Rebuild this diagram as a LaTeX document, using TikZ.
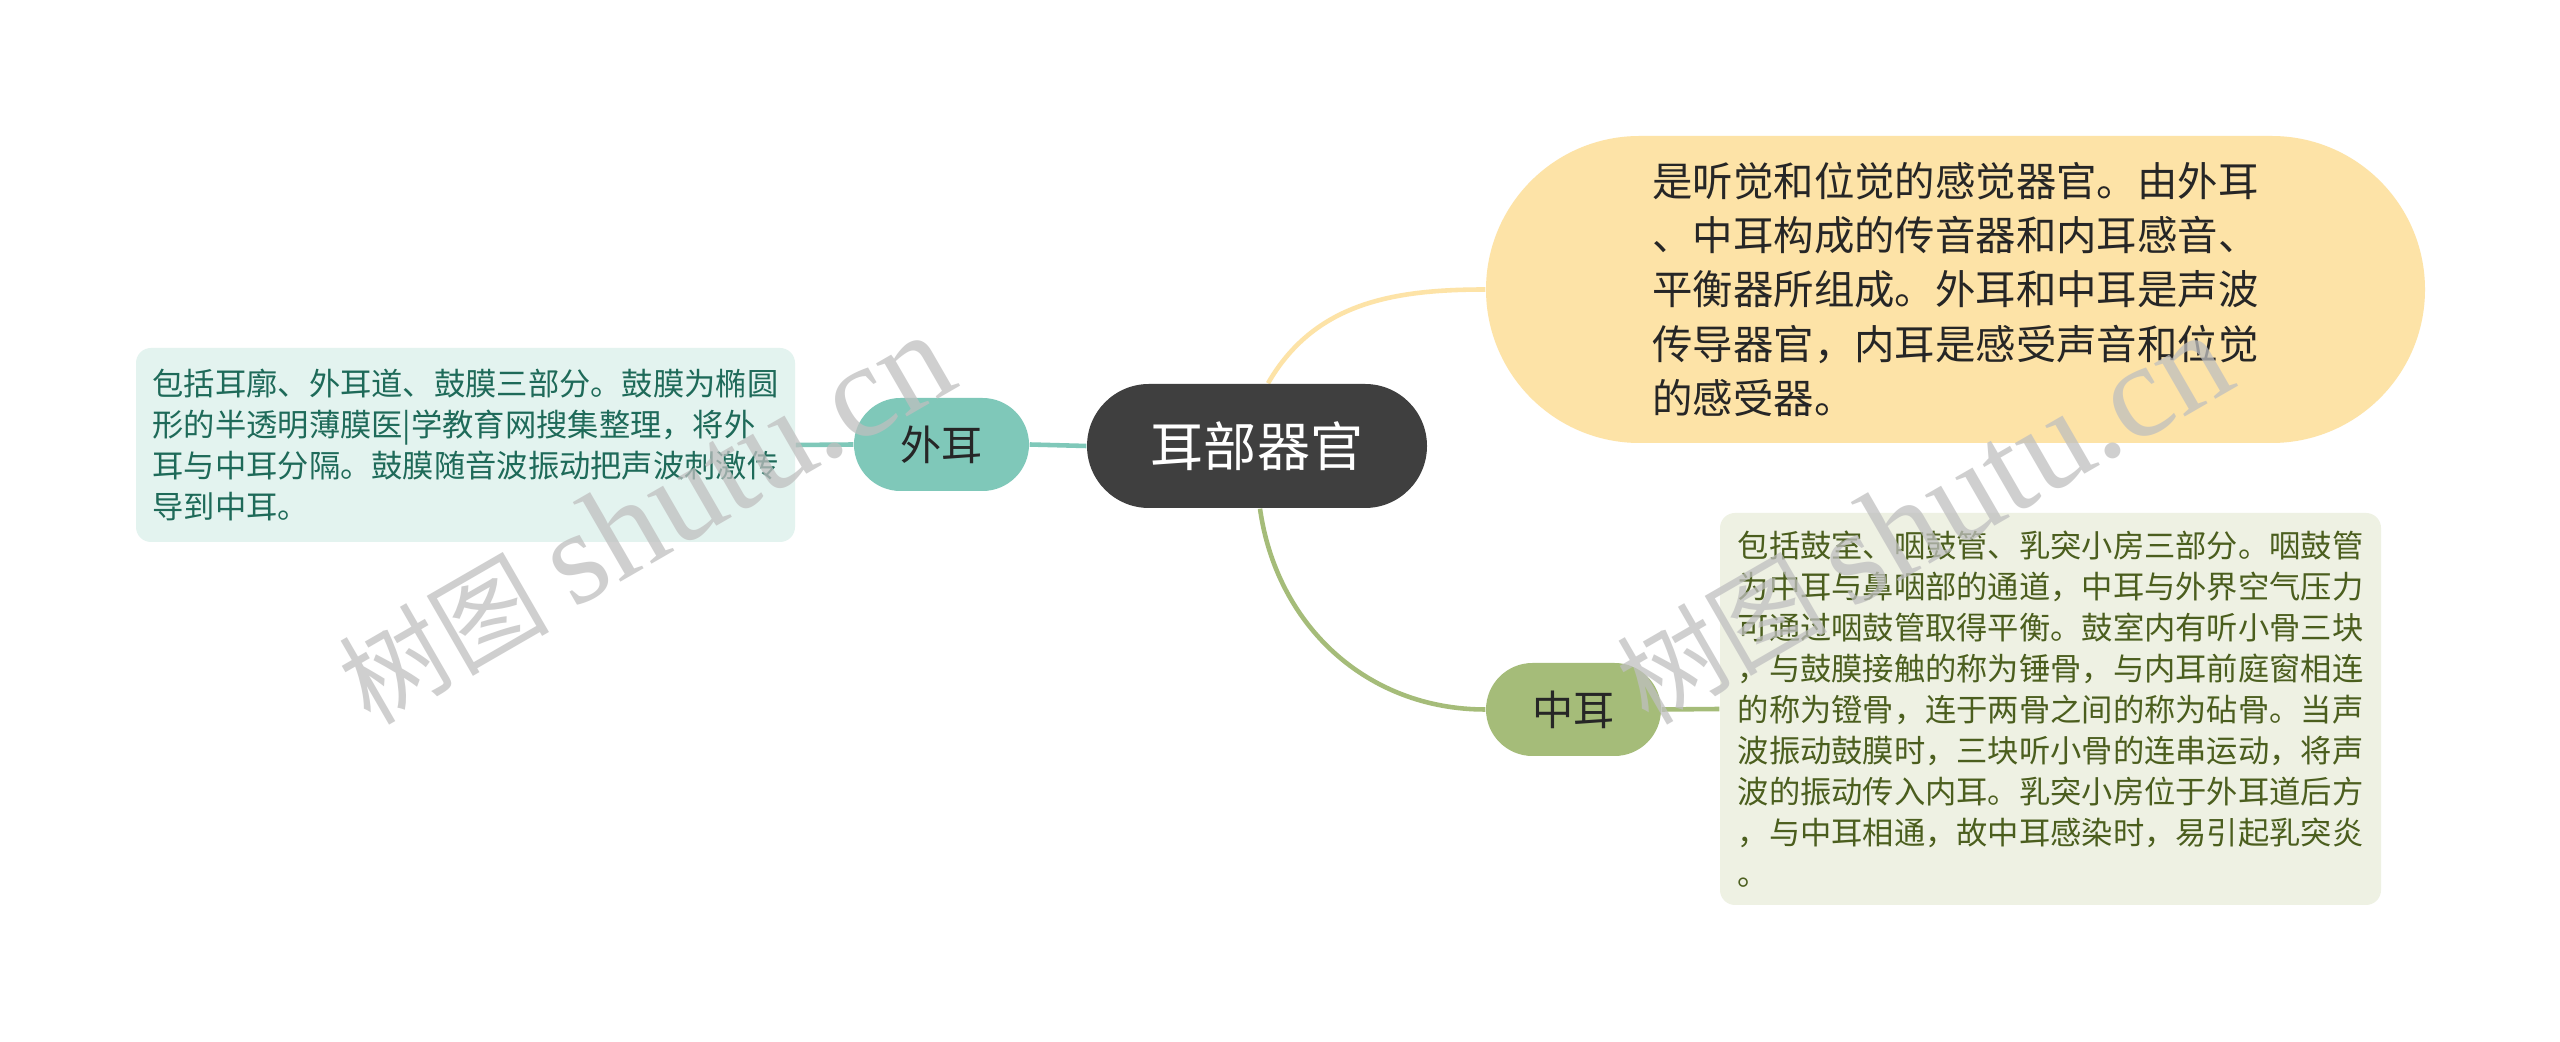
\documentclass[tikz,border=0pt]{standalone}
\usepackage{fontspec}
\setmainfont{Noto Sans CJK SC}
\newfontfamily\wmlatin{Liberation Serif}
\usetikzlibrary{backgrounds}

\definecolor{rootgray}{HTML}{3F3F3F}
\definecolor{tealfill}{HTML}{7FC8B9}
\definecolor{tealnote}{HTML}{E3F3EF}
\definecolor{tealtext}{HTML}{1E6A59}
\definecolor{sandfill}{HTML}{FDE3A7}
\definecolor{olivefill}{HTML}{A5BC79}
\definecolor{olivenote}{HTML}{EEF1E3}
\definecolor{olivetext}{HTML}{4B5E1E}

\tikzset{root/.style = {fill=rootgray, text=white, rounded corners=0.62cm, minimum width=3.4cm, minimum height=1.24cm, inner sep=0, font=\fontsize{15.1}{18}\selectfont}}
\tikzset{topic/.style = {rounded corners=0.465cm, minimum width=1.75cm, minimum height=0.93cm, inner sep=0, font=\fontsize{11.7}{14}\selectfont}}
\tikzset{note/.style = {rounded corners=0.15cm, align=left, inner sep=0, font=\fontsize{8.9}{11.66}\selectfont}}
\tikzset{link/.style = {line width=1.3pt}}
\tikzset{wmark/.style = {text=black!25, opacity=0.75, inner sep=0}}

\begin{document}
\begin{tikzpicture}
      \useasboundingbox (0, 0) rectangle (25.6, 10.42);
      \node [root] (root) at (12.57, 5.96) {耳部器官};
      \node [topic, fill=tealfill, text=black!85] (outer) at (9.415, 5.975) {外耳};
      \node [topic, fill=olivefill, text=black!85] (middle) at (15.735, 3.325) {中耳};
      \node [note, fill=tealnote, text=tealtext, minimum width=6.59cm, minimum height=1.94cm] (outernote) at (4.655, 5.97)
            {包括耳廓、外耳道、鼓膜三部分。鼓膜为椭圆\\形的半透明薄膜医|学教育网搜集整理，将外\\耳与中耳分隔。鼓膜随音波振动把声波刺激传\\导到中耳。};
      \node [note, fill=olivenote, text=olivetext, minimum width=6.61cm, minimum height=3.92cm] (middlenote) at (20.505, 3.33)
            {包括鼓室、咽鼓管、乳突小房三部分。咽鼓管\\为中耳与鼻咽部的通道，中耳与外界空气压力\\可通过咽鼓管取得平衡。鼓室内有听小骨三块\\，与鼓膜接触的称为锤骨，与内耳前庭窗相连\\的称为镫骨，连于两骨之间的称为砧骨。当声\\波振动鼓膜时，三块听小骨的连串运动，将声\\波的振动传入内耳。乳突小房位于外耳道后方\\，与中耳相通，故中耳感染时，易引起乳突炎\\。};
      \node [note, fill=sandfill, text=black!85, rounded corners=1.535cm, minimum width=9.39cm, minimum height=3.07cm, font=\fontsize{11.5}{15.4}\selectfont] (rootnote) at (19.555, 7.525)
            {是听觉和位觉的感觉器官。由外耳\\、中耳构成的传音器和内耳感音、\\平衡器所组成。外耳和中耳是声波\\传导器官，内耳是感受声音和位觉\\的感受器。\hspace*{0.2cm}};
      \begin{scope}[on background layer]
        \fill [white] (0, 0) rectangle (25.6, 10.42);
        \draw [link, sandfill] ([xshift=0.11cm]root.north) to [out=60, in=180] (rootnote.west);
        \draw [link, olivefill] ([xshift=0.03cm]root.south) to [out=-82, in=180] (middle.west);
        \draw [link, tealfill] (root.west) -- (outer.east);
        \draw [link, tealfill] (outer.west) -- (outernote.east);
        \draw [link, olivefill] (middle.east) -- (middlenote.west);
      \end{scope}
      % watermark
      \node [wmark, rotate=30] (wmleft) at (6.45, 5.23) {\fontsize{30}{36}\selectfont 树图 {\wmlatin\fontsize{38}{40}\selectfont shutu.cn}};
      \node [wmark, rotate=30] (wmright) at (19.23, 5.23) {\fontsize{30}{36}\selectfont 树图 {\wmlatin\fontsize{38}{40}\selectfont shutu.cn}};
    \end{tikzpicture}
\end{document}
